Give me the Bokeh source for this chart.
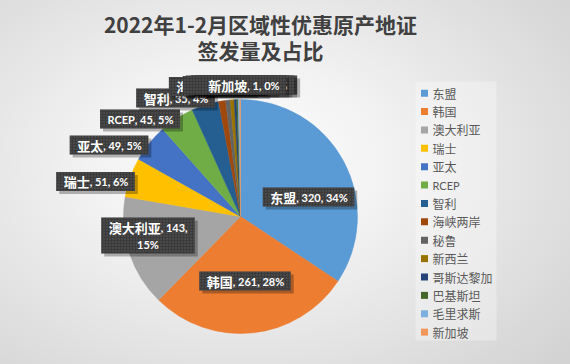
import math
from bokeh.plotting import figure
from bokeh.models import Range1d
from bokeh.core.properties import value
from bokeh.embed import file_html
from bokeh.resources import INLINE

# ---------------- data ----------------
categories = ["东盟", "韩国", "澳大利亚", "瑞士", "亚太", "RCEP", "智利",
              "海峡两岸", "秘鲁", "新西兰", "哥斯达黎加", "巴基斯坦", "毛里求斯", "新加坡"]
counts = [320, 261, 143, 51, 49, 45, 35, 9, 6, 5, 3, 2, 2, 1]
pct_labels = ["34%", "28%", "15%", "6%", "5%", "5%", "4%",
              "1%", "1%", "1%", "0%", "0%", "0%", "0%"]
colors = ["#5B9BD5", "#ED7D31", "#A5A5A5", "#FFC000", "#4472C4", "#70AD47", "#255E91",
          "#9E480E", "#636363", "#997300", "#264478", "#43682B", "#7CAFDD", "#F1975A"]
title_lines = ["2022年1-2月区域性优惠原产地证", "签发量及占比"]

# ---------------- layout (reference pixel coords) ----------------
W, H = 570, 364
OFF = 0
CX, CY, R = 240, 216, 117
# label box centers
label_pos = [(308, 196.5), (244.5, 280.5), (147.5, 235), (95, 181), (108.5, 144.5),
             (139.5, 118.5), (175, 97.5), (217.5, 86), (218.5, 85), (233, 84.5),
             (241, 84.5), (239.5, 84.5), (244.5, 84.5), (243, 84.5)]
two_line = {2}

CJK = "Noto Sans CJK SC"
LAT = "Lato"


def Y(v):
    return (H + OFF) - v


lato_w = {',': 0.24, ' ': 0.193, '%': 0.82, 'R': 0.64, 'C': 0.66, 'E': 0.56, 'P': 0.62}


def rest_width(s, size=11.0):
    return sum(lato_w.get(ch, 0.58) for ch in s) * size


def is_cjk(s):
    return any(ord(ch) > 0x2E80 for ch in s)


p = figure(width=W, height=H, output_backend="svg", toolbar_location=None,
           x_axis_type=None, y_axis_type=None, min_border=0,
           x_range=Range1d(OFF, W + OFF), y_range=Range1d(0, H))
p.outline_line_color = None
p.grid.visible = False
p.background_fill_alpha = 0
p.border_fill_alpha = 0
p.styles = {"background": "radial-gradient(ellipse 75% 80% at 42% 45%, #ffffff 0%, #f2f2f2 35%, #d3d3d3 100%)"}

# ---------------- title ----------------
p.text(x=[260, 260], y=[Y(23), Y(49)], text=title_lines,
       text_font=value(CJK), text_font_size="21px", text_font_style="bold",
       text_color="#404040", text_align="center", text_baseline="middle")

# ---------------- pie ----------------
total = sum(counts)
starts, ends = [], []
cum = 0
for c in counts:
    starts.append(math.pi / 2 - 2 * math.pi * cum / total)
    cum += c
    ends.append(math.pi / 2 - 2 * math.pi * cum / total)

p.wedge(x=[CX] * len(counts), y=[Y(CY)] * len(counts), radius=R,
        start_angle=starts, end_angle=ends, direction="clock",
        fill_color=colors, line_color=colors, line_width=0.5)

# ---------------- data labels ----------------
PAD = 7.5
BOX_H = 19
for i, name in enumerate(categories):
    cx, cy = label_pos[i]
    if i in two_line:
        rest1 = f", {counts[i]},"
        rest2 = pct_labels[i]
        name_w = 13 * len(name)
        line_w = name_w + rest_width(rest1)
        bw = line_w + 2 * PAD
        bh = 36
    else:
        rest1 = f", {counts[i]}, {pct_labels[i]}"
        if is_cjk(name):
            name_w = 13 * len(name)
        else:
            name_w = rest_width(name)
        line_w = name_w + rest_width(rest1)
        bw = line_w + 2 * PAD
        bh = BOX_H
    # shadow
    p.rect(x=[cx + 3], y=[Y(cy + 3)], width=bw, height=bh,
           fill_color="black", fill_alpha=0.28, line_color=None)
    # box
    p.rect(x=[cx], y=[Y(cy)], width=bw, height=bh,
           fill_color="#3b3b3b", line_color=None,
           hatch_pattern="dot", hatch_color="#5e5e5e", hatch_scale=3, hatch_weight=0.7)
    x0 = cx - line_w / 2
    ly = cy - 8.5 if i in two_line else cy
    if is_cjk(name):
        p.text(x=[x0], y=[Y(ly)], text=[name], text_font=value(CJK),
               text_font_size="13px", text_font_style="bold", text_color="white",
               text_align="left", text_baseline="middle")
    else:
        p.text(x=[x0], y=[Y(ly)], text=[name], text_font=value(LAT),
               text_font_size="11px", text_font_style="bold", text_color="white",
               text_align="left", text_baseline="middle")
    p.text(x=[x0 + name_w], y=[Y(ly)], text=[rest1], text_font=value(LAT),
           text_font_size="11px", text_font_style="bold", text_color="white",
           text_align="left", text_baseline="middle")
    if i in two_line:
        p.text(x=[cx], y=[Y(cy + 9)], text=[rest2], text_font=value(LAT),
               text_font_size="11px", text_font_style="bold", text_color="white",
               text_align="center", text_baseline="middle")

# ---------------- legend ----------------
p.rect(x=[455.5], y=[Y(210.5)], width=81, height=259,
       fill_color="white", fill_alpha=0.3, line_color=None)
leg_y = [Y(92.7 + i * 18.38) for i in range(len(categories))]
p.rect(x=[424] * len(categories), y=leg_y, width=7, height=7,
       fill_color=colors, line_color=None)
cjk_idx = [i for i, n in enumerate(categories) if is_cjk(n)]
lat_idx = [i for i, n in enumerate(categories) if not is_cjk(n)]
p.text(x=[432] * len(cjk_idx), y=[leg_y[i] for i in cjk_idx],
       text=[categories[i] for i in cjk_idx], text_font=value(CJK),
       text_font_size="12px", text_color="#595959",
       text_align="left", text_baseline="middle")
p.text(x=[432] * len(lat_idx), y=[leg_y[i] for i in lat_idx],
       text=[categories[i] for i in lat_idx], text_font=value(LAT),
       text_font_size="11px", text_color="#595959",
       text_align="left", text_baseline="middle")

open("out.html", "w").write(file_html(p, INLINE))
